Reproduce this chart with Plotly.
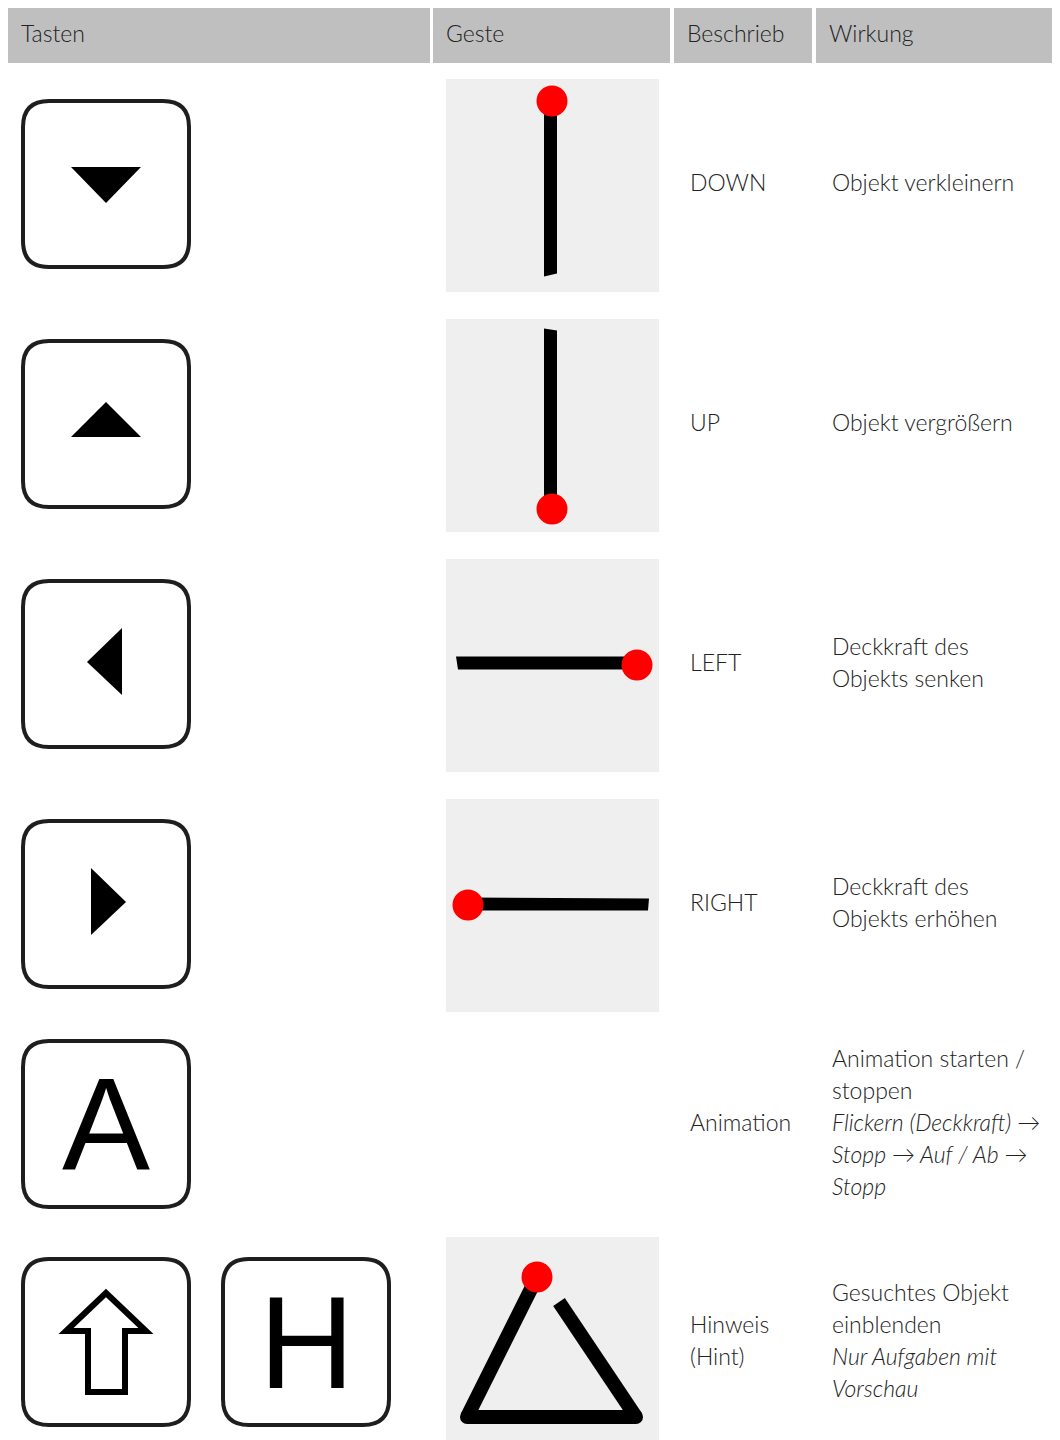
import plotly.graph_objects as go

# ---------------- data ----------------
headers = ["Tasten", "Geste", "Beschrieb", "Wirkung"]
col_left = [8, 433, 674, 816]
col_right = [430, 670, 812, 1059]

keys = [["down"], ["up"], ["left"], ["right"], ["A"], ["shift", "H"]]
gestures = ["down", "up", "left", "right", None, "triangle"]
descriptions = [["DOWN"], ["UP"], ["LEFT"], ["RIGHT"], ["Animation"], ["Hinweis", "(Hint)"]]
effects = [
    [("Objekt verkleinern", False)],
    [("Objekt vergrößern", False)],
    [("Deckkraft des", False), ("Objekts senken", False)],
    [("Deckkraft des", False), ("Objekts erhöhen", False)],
    [("Animation starten /", False), ("stoppen", False),
     ("Flickern (Deckkraft) →", True), ("Stopp → Auf / Ab →", True), ("Stopp", True)],
    [("Gesuchtes Objekt", False), ("einblenden", False),
     ("Nur Aufgaben mit", True), ("Vorschau", True)],
]
row_centers = [184, 424, 664, 904, 1124, 1342]

# ---------------- style ----------------
W, H = 1060, 1440
OFF = 8  # page body margin
FONT = "Lato"
TXT = "#222222"
HEAD_BG = "#bfbfbf"
PANEL_BG = "#efefef"
LINE_H = 32
FS = 23
TY = -2  # text baseline tweak

shapes = []
anns = []


def rrect(x0, y0, x1, y1, r):
    return (f"M{x0+r},{y0} L{x1-r},{y0} Q{x1},{y0} {x1},{y0+r} L{x1},{y1-r} "
            f"Q{x1},{y1} {x1-r},{y1} L{x0+r},{y1} Q{x0},{y1} {x0},{y1-r} "
            f"L{x0},{y0+r} Q{x0},{y0} {x0+r},{y0} Z")


def poly(pts):
    return "M" + " L".join(f"{x},{y}" for x, y in pts) + " Z"


def circle(cx, cy, r, color):
    shapes.append(dict(type="circle", xref="x", yref="y", x0=cx - r, x1=cx + r,
                       y0=cy - r, y1=cy + r, fillcolor=color, line=dict(width=0)))


def text(x, y, s, size=FS, anchor="left", family=FONT, color=TXT):
    anns.append(dict(x=x, y=y, xref="x", yref="y", text=s, showarrow=False,
                     xanchor=anchor, yanchor="middle",
                     font=dict(family=family, size=size, color=color, weight=300)))


# header
for h, x0, x1 in zip(headers, col_left, col_right):
    shapes.append(dict(type="rect", xref="x", yref="y", x0=x0, x1=x1, y0=7, y1=63,
                       fillcolor=HEAD_BG, line=dict(width=0), layer="below"))
    text(x0 + 11, 33, h)


def key_box(cx, cy):
    shapes.append(dict(type="path", xref="x", yref="y",
                       path=rrect(cx - 83, cy - 83, cx + 83, cy + 83, 26),
                       fillcolor="white", line=dict(color="#1e1e1e", width=4)))


def key_symbol(kind, cx, cy):
    if kind == "down":
        pts = [(cx - 35, cy - 17), (cx + 35, cy - 17), (cx, cy + 19)]
    elif kind == "up":
        pts = [(cx - 35, cy + 13), (cx + 35, cy + 13), (cx, cy - 22)]
    elif kind == "left":
        pts = [(cx + 16, cy - 36), (cx + 16, cy + 31), (cx - 19, cy - 2)]
    elif kind == "right":
        pts = [(cx - 15, cy - 36), (cx - 15, cy + 31), (cx + 20, cy - 2)]
    elif kind == "shift":
        path = (f"M{cx},{cy-49} L{cx+40},{cy-11} L{cx+19},{cy-11} L{cx+19},{cy+50} "
                f"L{cx-18},{cy+50} L{cx-18},{cy-11} L{cx-40},{cy-11} Z")
        shapes.append(dict(type="path", xref="x", yref="y", path=path,
                           fillcolor="white", line=dict(color="black", width=6)))
        return
    else:
        text(cx, cy, kind, size=132, anchor="center",
             family="Liberation Sans", color="black")
        return
    shapes.append(dict(type="path", xref="x", yref="y", path=poly(pts),
                       fillcolor="black", line=dict(width=0)))


def gesture(kind, cy):
    pcy = cy + 1.5
    shapes.append(dict(type="rect", xref="x", yref="y", x0=446, x1=659,
                       y0=pcy - 106.5, y1=pcy + 106.5, fillcolor=PANEL_BG,
                       line=dict(width=0), layer="below"))
    red = "#ff0000"
    if kind == "down":
        shapes.append(dict(type="path", xref="x", yref="y",
                           path=poly([(544, pcy - 84), (557, pcy - 84), (557, pcy + 88), (544, pcy + 91)]),
                           fillcolor="black", line=dict(width=0)))
        circle(552, pcy - 84.5, 15.5, red)
    elif kind == "up":
        shapes.append(dict(type="path", xref="x", yref="y",
                           path=poly([(544, pcy - 97), (557, pcy - 95), (557, pcy + 83), (544, pcy + 83)]),
                           fillcolor="black", line=dict(width=0)))
        circle(552, pcy + 83.5, 15.5, red)
    elif kind == "left":
        shapes.append(dict(type="path", xref="x", yref="y",
                           path=poly([(456, pcy - 9), (636, pcy - 9), (636, pcy + 4), (458, pcy + 4)]),
                           fillcolor="black", line=dict(width=0)))
        circle(637, pcy - 0.5, 15.5, red)
    elif kind == "right":
        shapes.append(dict(type="path", xref="x", yref="y",
                           path=poly([(468, pcy - 8), (649, pcy - 7), (648, pcy + 5), (468, pcy + 5)]),
                           fillcolor="black", line=dict(width=0)))
        circle(468, pcy - 0.5, 15.5, red)
    elif kind == "triangle":
        top = (537, cy - 65)
        bl = (467, cy + 75)
        br = (636, cy + 75)
        rt = (559, cy - 40)
        for a, b in [(top, bl), (bl, br), (br, rt)]:
            shapes.append(dict(type="line", xref="x", yref="y", x0=a[0], y0=a[1],
                               x1=b[0], y1=b[1], line=dict(color="black", width=14)))
        circle(bl[0], bl[1], 7, "black")
        circle(br[0], br[1], 7, "black")
        circle(top[0], top[1], 15.5, red)


for i, cy in enumerate(row_centers):
    for j, k in enumerate(keys[i]):
        kx = 106 + j * 200
        key_box(kx, cy)
        key_symbol(k, kx, cy)
    if gestures[i]:
        gesture(gestures[i], cy)
    d = descriptions[i]
    for n, line in enumerate(d):
        text(688, cy + TY + (n - (len(d) - 1) / 2) * LINE_H, line)
    e = effects[i]
    for n, (line, it) in enumerate(e):
        text(830, cy + TY + (n - (len(e) - 1) / 2) * LINE_H, f"<i>{line}</i>" if it else line)

fig = go.Figure(go.Scatter(x=[OFF, W], y=[OFF, H], mode="markers",
                           marker=dict(opacity=0), hoverinfo="skip", showlegend=False))
fig.update_layout(
    width=W - OFF, height=H - OFF, margin=dict(l=0, r=0, t=0, b=0),
    paper_bgcolor="white", plot_bgcolor="white",
    xaxis=dict(range=[OFF, W], visible=False, fixedrange=True),
    yaxis=dict(range=[H, OFF], visible=False, fixedrange=True),
    shapes=shapes, annotations=anns, showlegend=False,
)
fig.write_html("out.html", config={"displayModeBar": False})
